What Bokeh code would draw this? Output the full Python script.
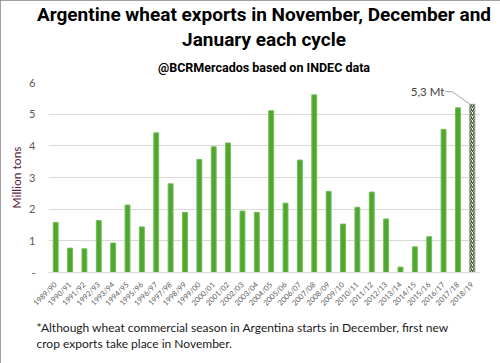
import math
from bokeh.plotting import figure
from bokeh.models import FactorRange, Range1d, Label, ColumnDataSource, Title
from bokeh.embed import file_html
from bokeh.resources import INLINE

seasons = ["1989/90", "1990/91", "1991/92", "1992/93", "1993/94", "1994/95",
           "1995/96", "1996/97", "1997/98", "1998/99", "1999/00", "2000/01",
           "2001/02", "2002/03", "2003/04", "2004/05", "2005/06", "2006/07",
           "2007/08", "2008/09", "2009/10", "2010/11", "2011/12", "2012/13",
           "2013/14", "2014/15", "2015/16", "2016/17", "2017/18", "2018/19"]
exports = [1.58, 0.77, 0.75, 1.64, 0.93, 2.13, 1.44, 4.41, 2.80, 1.90,
           3.57, 3.97, 4.09, 1.94, 1.90, 5.11, 2.19, 3.55, 5.61, 2.56,
           1.53, 2.06, 2.54, 1.69, 0.17, 0.81, 1.13, 4.52, 5.20, 5.31]
y_ticks = [0, 1, 2, 3, 4, 5, 6]
last_label = "5,3 Mt"

title_1 = "Argentine wheat exports in November, December and"
title_2 = "January each cycle"
subtitle = "@BCRMercados based on INDEC data"
note = ("*Although wheat commercial season in Argentina starts in December, first new\n"
        "crop exports take place in November.")

TF = "Roboto"
W, H = 500, 363
p = figure(width=W, height=H, output_backend="svg", toolbar_location=None,
           x_range=FactorRange(*seasons, range_padding=0),
           y_range=Range1d(0, 6), title=title_1,
           min_border_left=48, min_border_right=21, min_border_top=80,
           min_border_bottom=91)
p.outline_line_color = None
p.background_fill_color = "white"
p.border_fill_color = "white"

# titles: p.title is outermost, first of "above" list is nearest to the frame
p.title.text_font = TF
p.title.text_font_style = "bold"
p.title.text_font_size = "19px"
p.title.align = "center"
p.title.standoff = 0
p.title.text_color = "black"
p.add_layout(Title(text=subtitle, text_font=TF, text_font_style="bold",
                   text_font_size="12.5px", align="center", standoff=15,
                   text_color="black"), "above")
p.add_layout(Title(text=title_2, text_font=TF, text_font_style="bold",
                   text_font_size="19px", align="center", standoff=0,
                   text_color="black"), "above")

# note below the axis
p.add_layout(Title(text=note, text_font="Lato", text_font_style="normal",
                   text_font_size="12px", align="left", offset=-12, standoff=8,
                   text_line_height=1.11, text_color="#1a1a1a"), "below")

src = ColumnDataSource(dict(x=seasons[:-1], top=exports[:-1]))
p.vbar(x="x", top="top", width=0.34, source=src,
       fill_color="#4ea72e", line_color="#74bd55", line_width=1)
src2 = ColumnDataSource(dict(x=seasons[-1:], top=exports[-1:]))
p.vbar(x="x", top="top", width=0.34, source=src2,
       fill_color="white", line_color="#8c8c8c", line_width=1,
       hatch_pattern="/", hatch_color="#2f5a1f", hatch_scale=4, hatch_weight=1.3)

# leader line for last value
xl = seasons.index(seasons[-1]) + 0.5
yl = exports[-1]
p.line(x=[xl - 0.15, xl - 1.4, xl - 1.9], y=[yl, yl + 0.4, yl + 0.4],
       line_color="#a6a6a6", line_width=1)
p.add_layout(Label(x=xl - 1.95, y=yl + 0.4, text=last_label, text_align="right",
                   text_baseline="middle", text_font="Lato",
                   text_font_size="11.5px", text_color="#404040"))

# axes
p.xgrid.grid_line_color = None
p.ygrid.grid_line_color = "#d9d9d9"
p.ygrid.grid_line_width = 1
p.yaxis.ticker = y_ticks
p.yaxis.major_label_overrides = {0: "-"}
p.yaxis.axis_line_color = None
p.yaxis.major_tick_line_color = None
p.yaxis.minor_tick_line_color = None
p.yaxis.major_tick_out = 0
p.yaxis.major_tick_in = 0
p.yaxis.minor_tick_out = 0
p.yaxis.major_label_standoff = 13
p.yaxis.major_label_text_font = "Lato"
p.yaxis.major_label_text_font_size = "11px"
p.yaxis.major_label_text_color = "#595959"
p.yaxis.axis_label = "Million tons"
p.yaxis.axis_label_text_font = "Lato"
p.yaxis.axis_label_text_font_style = "normal"
p.yaxis.axis_label_text_font_size = "12px"
p.yaxis.axis_label_text_color = "#5a1e3c"
p.yaxis.axis_label_standoff = 2

p.xaxis.axis_line_color = "#d9d9d9"
p.xaxis.major_tick_line_color = None
p.xaxis.minor_tick_line_color = None
p.xaxis.major_label_orientation = math.pi / 4
p.xaxis.major_label_standoff = 5
p.xaxis.major_label_text_font = "Lato"
p.xaxis.major_label_text_font_size = "7.5px"
p.xaxis.major_label_text_color = "#595959"

p.styles = {"outline": "2px solid #7f7f7f", "outline-offset": "-2px"}

open("out.html", "w").write(file_html(p, INLINE))
